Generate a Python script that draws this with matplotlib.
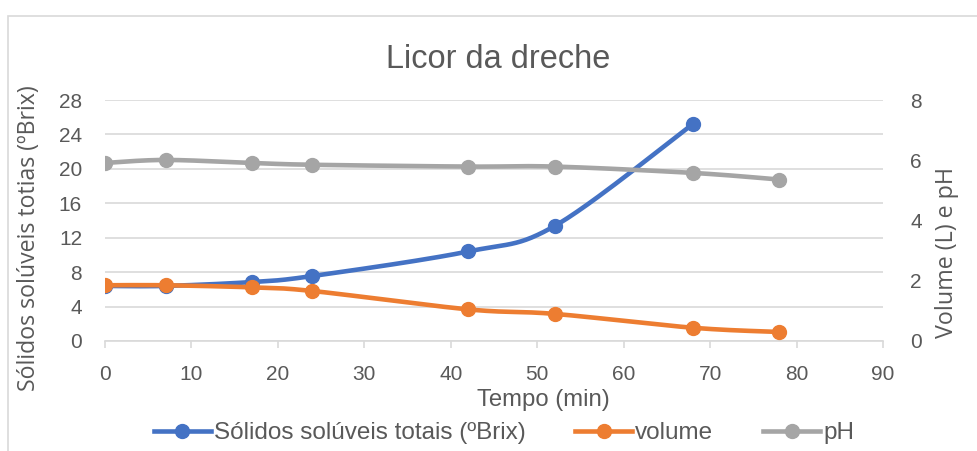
import numpy as np
import matplotlib.pyplot as plt
from matplotlib.patches import Rectangle
from matplotlib.lines import Line2D

# data
tempo_brix = [0, 7, 17, 24, 42, 52, 68]
brix = [6.4, 6.4, 6.85, 7.55, 10.4, 13.35, 25.2]
tempo = [0, 7, 17, 24, 42, 52, 68, 78]
volume = [1.85, 1.85, 1.78, 1.66, 1.05, 0.90, 0.44, 0.30]
ph = [5.91, 6.01, 5.91, 5.85, 5.79, 5.79, 5.58, 5.36]

BLUE = '#4472C4'
ORANGE = '#ED7D31'
GRAY = '#A5A5A5'
TXT = '#595959'
GRID = '#D9D9D9'

SANS = ['Liberation Sans', 'DejaVu Sans']
HUMAN = ['Open Sans', 'DejaVu Sans']
W, H = 978, 451


def smooth(x, y, n=30):
    # Catmull-Rom curve through the points, like Excel's smoothed line
    p = np.column_stack([x, y]).astype(float)
    p = np.vstack([p[0], p, p[-1]])
    out = []
    t = np.linspace(0, 1, n)[:, None]
    for i in range(1, len(p) - 2):
        p0, p1, p2, p3 = p[i - 1], p[i], p[i + 1], p[i + 2]
        seg = 0.5 * ((2 * p1) + (-p0 + p2) * t + (2 * p0 - 5 * p1 + 4 * p2 - p3) * t ** 2
                     + (-p0 + 3 * p1 - 3 * p2 + p3) * t ** 3)
        out.append(seg)
    c = np.vstack(out)
    return c[:, 0], c[:, 1]


def fit_text(fig, px, py, s, length, rot=0, **kw):
    # put text centred at pixel (px, py) and size it to a given pixel length
    t = fig.text(px / W, 1 - py / H, s, ha='center', va='center', rotation=rot,
                 rotation_mode='anchor', fontsize=10, **kw)
    r = fig.canvas.get_renderer()
    bb = t.get_window_extent(r)
    cur = bb.width if rot == 0 else bb.height
    t.set_fontsize(10 * length / cur)
    return t


fig = plt.figure(figsize=(W / 100, H / 100), dpi=100)
ax = fig.add_axes([105 / W, 1 - 341 / H, (883 - 105) / W, (341 - 100) / H])
ax2 = ax.twinx()

# chart border like excel
fig.patches.append(Rectangle((8 / W, -0.1), 1.1, 1 - 16 / H + 0.1, transform=fig.transFigure,
                             fill=False, edgecolor='#D9D9D9', linewidth=1.2))

lw, ms = 3.3, 10
sx, sy = smooth(tempo_brix, brix)
ax.plot(sx, sy, color=BLUE, lw=lw, zorder=3, solid_capstyle='round')
ax.plot(tempo_brix, brix, 'o', color=BLUE, ms=ms, zorder=4)

sx, sy = smooth(tempo, volume)
ax2.plot(sx, sy, color=ORANGE, lw=lw, zorder=3, solid_capstyle='round')
ax2.plot(tempo, volume, 'o', color=ORANGE, ms=ms, zorder=4)
sx, sy = smooth(tempo, ph)
ax2.plot(sx, sy, color=GRAY, lw=lw, zorder=3, solid_capstyle='round')
ax2.plot(tempo, ph, 'o', color=GRAY, ms=ms, zorder=4)

ax.set_xlim(0, 90)
ax.set_ylim(0, 28)
ax2.set_ylim(0, 8)
ax.set_xticks(range(0, 91, 10))
ax.set_yticks(range(0, 29, 4))
ax2.set_yticks(range(0, 9, 2))
ax.grid(axis='y', color=GRID, lw=1.2)
ax.set_axisbelow(True)

for a in (ax, ax2):
    for s in a.spines.values():
        s.set_visible(False)
ax.spines['bottom'].set_visible(True)
ax.spines['bottom'].set_color(GRID)
ax.spines['bottom'].set_linewidth(1.2)
ax.tick_params(axis='x', length=5, width=1.2, color=GRID, labelcolor=TXT, pad=12)
ax.tick_params(axis='y', length=0, labelcolor=TXT, pad=16.5)
ax2.tick_params(axis='y', length=0, labelcolor=TXT, pad=19.5)
for lab in ax.get_xticklabels() + ax.get_yticklabels() + ax2.get_yticklabels():
    lab.set_fontfamily(SANS)
    lab.set_fontsize(15)

fit_text(fig, 498, 60, 'Licor da dreche', 226, color=TXT, family=SANS)
fit_text(fig, 543, 400, 'Tempo (min)', 133, color=TXT, family=SANS)
fit_text(fig, 29, 238, 'Sólidos solúveis totias (ºBrix)', 306, rot=90, color=TXT, family=HUMAN)
fit_text(fig, 947, 252, 'Volume (L) e pH', 171, rot=90, color=TXT, family=HUMAN)

handles = [Line2D([], [], color=c, lw=lw, marker='o', ms=ms) for c in (BLUE, ORANGE, GRAY)]
fig.legend(handles, ['Sólidos solúveis totais (ºBrix)', 'volume', 'pH'],
           loc='center', bbox_to_anchor=(504 / W, 1 - 433 / H), ncol=3, frameon=False,
           prop={'family': SANS, 'size': 17.5}, labelcolor=TXT, handlelength=2.35,
           handletextpad=0.12, columnspacing=2.05, borderpad=0)

fig.savefig('out.png', dpi=100)
